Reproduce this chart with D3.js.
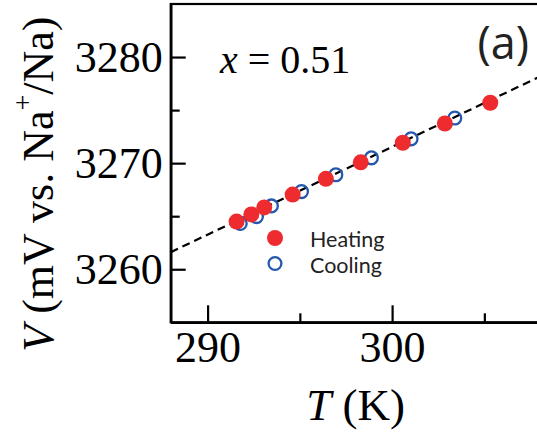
<!DOCTYPE html>
<html>
<head>
<meta charset="utf-8">
<style>
  body { margin: 0; background: #fff; }
  .axis path, .axis line { stroke: #000; stroke-width: 2.2; }
  .axis text { font-family: "Liberation Serif", "Times New Roman", serif; font-size: 44px; fill: #000; }
</style>
</head>
<body>
<script src="https://cdn.jsdelivr.net/npm/d3@7"></script>
<script>
// data
var heatingT = [291.57, 292.37, 293.07, 294.61, 296.41, 298.30, 300.58, 302.86, 305.32];
var heatingV = [3264.49, 3265.17, 3265.83, 3267.04, 3268.52, 3270.08, 3271.92, 3273.74, 3275.69];
var coolingT = [291.77, 292.65, 293.46, 295.09, 296.95, 298.88, 301.03, 303.40];
var coolingV = [3264.32, 3264.96, 3265.97, 3267.32, 3268.90, 3270.50, 3272.29, 3274.25];
var fitT = [288, 308];
var fitV = [3261.61, 3278.15];
var xMajor = [290, 300], xMinor = [295, 305];
var yMajor = [3260, 3270, 3280], yMinor = [3265, 3275];
var legendLabels = ["Heating", "Cooling"];

var W = 537, H = 432;
var margin = {top: 4, left: 170.7};
var plotW = 369, plotH = 318.3;

var svg = d3.select("body").append("svg")
  .attr("width", W).attr("height", H);

var g = svg.append("g")
  .attr("transform", "translate(" + margin.left + "," + margin.top + ")");

var x = d3.scaleLinear().domain([288, 308]).range([0, plotW]);
var y = d3.scaleLinear().domain([3255, 3285]).range([plotH, 0]);

// frame
g.append("rect")
  .attr("width", plotW).attr("height", plotH)
  .attr("fill", "none").attr("stroke", "#000").attr("stroke-width", 2.2);

// x axis, ticks pointing inward
g.append("g").attr("class", "axis")
  .attr("transform", "translate(0," + plotH + ")")
  .call(d3.axisBottom(x).tickValues(xMajor).tickSizeInner(-17).tickSizeOuter(0).tickPadding(8).tickFormat(d3.format("d")));
g.append("g").attr("class", "axis")
  .attr("transform", "translate(0," + plotH + ")")
  .call(d3.axisBottom(x).tickValues(xMinor).tickSizeInner(-9).tickSizeOuter(0).tickFormat(""));

// y axis
g.append("g").attr("class", "axis")
  .call(d3.axisLeft(y).tickValues(yMajor).tickSizeInner(-15).tickSizeOuter(0).tickPadding(8).tickFormat(d3.format("d")));
g.append("g").attr("class", "axis")
  .call(d3.axisLeft(y).tickValues(yMinor).tickSizeInner(-9).tickSizeOuter(0).tickFormat(""));

// dashed fit line
g.append("path")
  .datum(d3.zip(fitT, fitV))
  .attr("fill", "none").attr("stroke", "#000")
  .attr("stroke-width", 2.2).attr("stroke-dasharray", "8,5")
  .attr("d", d3.line().x(function(d) { return x(d[0]); }).y(function(d) { return y(d[1]); }));

// cooling (open) under heating (filled)
g.selectAll(".cool")
  .data(d3.zip(coolingT, coolingV))
  .enter().append("circle")
  .attr("class", "cool")
  .attr("cx", function(d) { return x(d[0]); })
  .attr("cy", function(d) { return y(d[1]); })
  .attr("r", 6.4)
  .attr("fill", "none").attr("stroke", "#2458ad").attr("stroke-width", 2.3);

g.selectAll(".heat")
  .data(d3.zip(heatingT, heatingV))
  .enter().append("circle")
  .attr("class", "heat")
  .attr("cx", function(d) { return x(d[0]); })
  .attr("cy", function(d) { return y(d[1]); })
  .attr("r", 8)
  .attr("fill", "#ee2b2e");

// legend
var leg = svg.append("g").attr("transform", "translate(275,238)");
leg.append("circle").attr("r", 8).attr("fill", "#ee2b2e");
leg.append("circle").attr("cy", 25.5).attr("r", 6.4)
  .attr("fill", "none").attr("stroke", "#2458ad").attr("stroke-width", 2.3);
leg.selectAll("text")
  .data(legendLabels)
  .enter().append("text")
  .attr("x", 35)
  .attr("y", function(d, i) { return 9 + i * 26; })
  .style("font-family", "Lato, sans-serif")
  .style("font-size", "21.5px")
  .style("fill", "#222")
  .text(function(d) { return d; });

// annotations
var ann = svg.append("text")
  .attr("x", 220).attr("y", 73)
  .style("font-family", "'Liberation Serif', serif")
  .style("font-size", "40px");
ann.append("tspan").style("font-style", "italic").text("x");
ann.append("tspan").text(" = 0.51");

svg.append("text")
  .attr("x", 529).attr("y", 59)
  .attr("text-anchor", "end")
  .style("font-family", "'Open Sans', sans-serif")
  .style("font-size", "45px")
  .style("fill", "#222")
  .text("(a)");

// axis titles
var xt = svg.append("text")
  .attr("x", 355.5).attr("y", 420)
  .attr("text-anchor", "middle")
  .style("font-family", "'Liberation Serif', serif")
  .style("font-size", "45px");
xt.append("tspan").style("font-style", "italic").text("T");
xt.append("tspan").text(" (K)");

var yt = svg.append("text")
  .attr("transform", "translate(53,351.7) rotate(-90)")
  .style("font-family", "'Liberation Serif', serif")
  .style("font-size", "44px");
yt.append("tspan").style("font-style", "italic").text("V");
yt.append("tspan").text(" (mV vs. Na");
yt.append("tspan").attr("dy", -21).style("font-size", "28px").text("+");
yt.append("tspan").attr("dy", 21).text("/Na)");
</script>
</body>
</html>
